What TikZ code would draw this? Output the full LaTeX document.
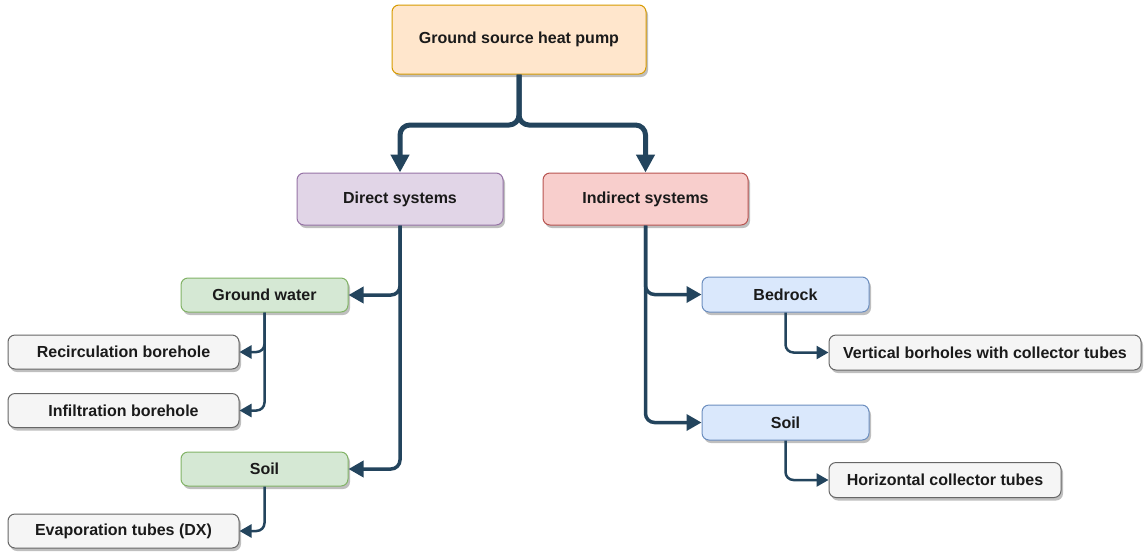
\documentclass[tikz,border=0pt]{standalone}
\usepackage{fontspec}
\setmainfont{Liberation Sans}
\usetikzlibrary{arrows.meta,shadows,calc}
\definecolor{orF}{HTML}{FFE6CC}\definecolor{orD}{HTML}{D79B00}
\definecolor{puF}{HTML}{E1D5E7}\definecolor{puD}{HTML}{9673A6}
\definecolor{reF}{HTML}{F8CECC}\definecolor{reD}{HTML}{B85450}
\definecolor{grF}{HTML}{D5E8D4}\definecolor{grD}{HTML}{82B366}
\definecolor{blF}{HTML}{DAE8FC}\definecolor{blD}{HTML}{6C8EBF}
\definecolor{gyF}{HTML}{F5F5F5}\definecolor{gyD}{HTML}{666666}
\definecolor{lnC}{HTML}{23445D}
\definecolor{txC}{HTML}{1A1A1A}
\tikzset{
  box/.style={draw, line width=1pt, rounded corners=7pt, inner sep=0pt, text=txC,
    font=\bfseries\fontsize{16}{19}\selectfont,
    drop shadow={shadow xshift=2pt, shadow yshift=-3pt, opacity=0.25, fill=black}},
  orbox/.style={box, fill=orF, draw=orD},
  pubox/.style={box, fill=puF, draw=puD},
  rebox/.style={box, fill=reF, draw=reD},
  grbox/.style={box, fill=grF, draw=grD},
  blbox/.style={box, fill=blF, draw=blD},
  gybox/.style={box, fill=gyF, draw=gyD},
  bigc/.style={draw=lnC, line width=5pt, rounded corners=10pt, -{Triangle[length=18pt,width=18pt]}},
  midc/.style={draw=lnC, line width=3.5pt, rounded corners=9pt, -{Triangle[length=15pt,width=16pt]}},
  smc/.style={draw=lnC, line width=2.5pt, rounded corners=8pt, -{Triangle[length=12pt,width=13pt]}},
}
\begin{document}
\begin{tikzpicture}[x=1pt,y=-1pt]
\useasboundingbox (0,0) rectangle (1145,555);
\fill[white] (0,0) rectangle (1145,555);
\node[orbox, minimum width=254pt, minimum height=69pt] (top) at (519,39.5) {Ground source heat pump};
\node[pubox, minimum width=206pt, minimum height=52pt] (direct) at (400,199) {Direct systems};
\node[rebox, minimum width=205pt, minimum height=52pt] (indirect) at (645.5,199) {Indirect systems};
\node[grbox, minimum width=167pt, minimum height=34pt] (gw) at (264.5,295) {Ground water};
\node[gybox, minimum width=231pt, minimum height=34pt] (recirc) at (123.5,352) {Recirculation borehole};
\node[gybox, minimum width=231pt, minimum height=34pt] (infil) at (123.5,410.5) {Infiltration borehole};
\node[grbox, minimum width=167pt, minimum height=34pt] (soilg) at (264.5,469) {Soil};
\node[gybox, minimum width=231pt, minimum height=34pt] (evap) at (123.5,531) {Evaporation tubes (DX)};
\node[blbox, minimum width=167pt, minimum height=35pt] (bedrock) at (785.5,294.5) {Bedrock};
\node[gybox, minimum width=312pt, minimum height=35pt] (vert) at (985,352.5) {Vertical borholes with collector tubes};
\node[blbox, minimum width=167pt, minimum height=35pt] (soilb) at (785.5,422.5) {Soil};
\node[gybox, minimum width=232pt, minimum height=35pt] (horiz) at (945,480) {Horizontal collector tubes};
\coordinate (sl) at (400,125);
\coordinate (sr) at (645.5,125);
\draw[bigc] (top.south) |- (sl) -- (direct.north);
\draw[bigc] (top.south) |- (sr) -- (indirect.north);
\draw[midc] (direct.south) |- (gw.east);
\draw[midc] (direct.south) |- (soilg.east);
\draw[midc] (indirect.south) |- (bedrock.west);
\draw[midc] (indirect.south) |- (soilb.west);
\draw[smc] (gw.south) |- (recirc.east);
\draw[smc] (gw.south) |- (infil.east);
\draw[smc] (soilg.south) |- (evap.east);
\draw[smc] (bedrock.south) |- (vert.west);
\draw[smc] (soilb.south) |- (horiz.west);
\end{tikzpicture}
\end{document}
